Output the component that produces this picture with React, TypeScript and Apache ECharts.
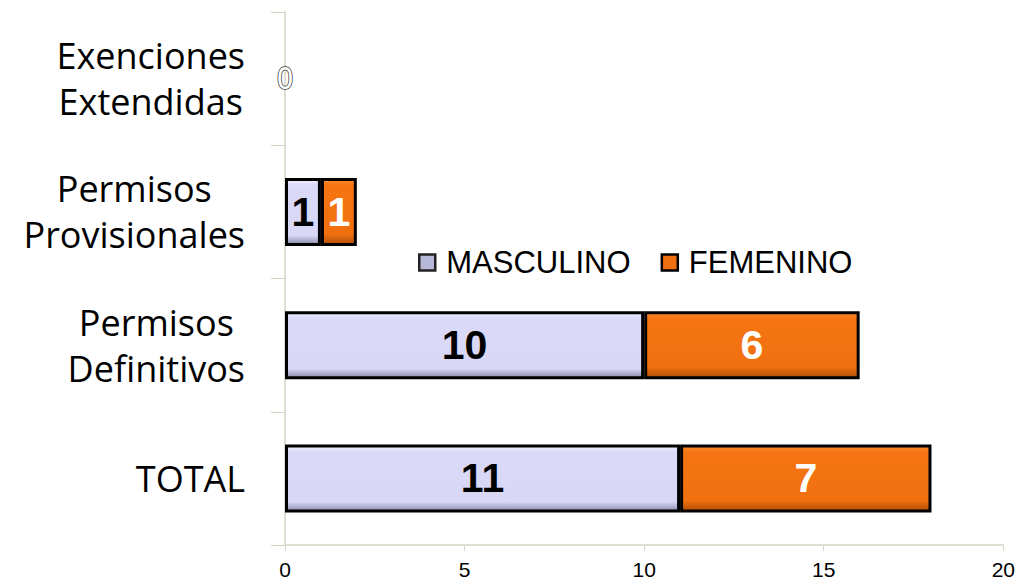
import React, { useEffect, useRef } from "react";
import * as echarts from "echarts";

const categories = ["TOTAL", "Permisos\nDefinitivos", "Permisos\nProvisionales", "Exenciones\nExtendidas"];
const masculino = [11, 10, 1, 0];
const femenino = [7, 6, 1, 0];
const xTicks = { min: 0, max: 20, interval: 5 };

export default function App() {
  const ref = useRef<HTMLDivElement>(null);
  useEffect(() => {
    document.body.style.margin = "0";
    const chart = echarts.init(ref.current!, undefined, { renderer: "svg" });
    const lavender = {
      type: "linear", x: 0, y: 0, x2: 0, y2: 1,
      colorStops: [
        { offset: 0, color: "#ececff" },
        { offset: 0.1, color: "#dadaf8" },
        { offset: 0.86, color: "#d8d8f6" },
        { offset: 1, color: "#8c8cae" },
      ],
    };
    const orange = {
      type: "linear", x: 0, y: 0, x2: 0, y2: 1,
      colorStops: [
        { offset: 0, color: "#ff8a2c" },
        { offset: 0.1, color: "#f67512" },
        { offset: 0.84, color: "#f07010" },
        { offset: 1, color: "#b25006" },
      ],
    };
    const labelFont = { fontFamily: "Liberation Sans, Arial, sans-serif", fontWeight: "bold", fontSize: 41 };
    chart.setOption({
      animation: false,
      backgroundColor: "#ffffff",
      grid: { left: 285, right: 13, top: 12, bottom: 33 },
      legend: {
        left: 413,
        top: 242,
        itemWidth: 16,
        itemHeight: 16,
        itemGap: 30,
        icon: "rect",
        textStyle: { fontFamily: "Liberation Sans, Arial, sans-serif", fontSize: 31, color: "#000", padding: [0, 0, 0, 6] },
        data: [
          { name: "MASCULINO", itemStyle: { color: "#b8b8d8", borderColor: "#222", borderWidth: 2.5 } },
          { name: "FEMENINO", itemStyle: { color: "#f07010", borderColor: "#000", borderWidth: 2.5 } },
        ],
      },
      xAxis: {
        type: "value",
        min: xTicks.min,
        max: xTicks.max,
        interval: xTicks.interval,
        splitLine: { show: false },
        axisLine: { show: true, lineStyle: { color: "#d6d2c4", width: 1.5 } },
        axisTick: { show: true, length: 6, lineStyle: { color: "#d6d2c4" } },
        axisLabel: { fontFamily: "Liberation Sans, Arial, sans-serif", fontSize: 21, color: "#000", margin: 14 },
      },
      yAxis: {
        type: "category",
        data: categories,
        axisLine: { show: true, lineStyle: { color: "#d6d2c4", width: 1.5 } },
        axisTick: { show: true, length: 14, lineStyle: { color: "#d6d2c4" } },
        axisLabel: {
          align: "right",
          margin: 40,
          formatter: (v: string) => v.split("\n").map((l) => `{a|${l}}`).join("\n"),
          rich: {
            a: { align: "center", fontFamily: "Open Sans, sans-serif", fontSize: 36, lineHeight: 46, color: "#000" },
          },
        },
      },
      series: [
        {
          name: "MASCULINO",
          type: "bar",
          stack: "s",
          barWidth: 68,
          data: masculino.map((v) =>
            v === 0
              ? {
                  value: v,
                  itemStyle: { borderWidth: 0 },
                  label: {
                    show: true,
                    position: "inside",
                    fontFamily: "DejaVu Sans Condensed, sans-serif",
                    fontWeight: "normal",
                    fontSize: 30,
                    color: "#ffffff",
                    textBorderColor: "#333333",
                    textBorderWidth: 1.5,
                  },
                }
              : v
          ),
          itemStyle: { color: lavender, borderColor: "#000", borderWidth: 3 },
          label: { show: true, position: "inside", color: "#000", ...labelFont },
        },
        {
          name: "FEMENINO",
          type: "bar",
          stack: "s",
          barWidth: 68,
          data: femenino.map((v) => (v === 0 ? { value: v, itemStyle: { borderWidth: 0 }, label: { show: false } } : v)),
          itemStyle: { color: orange, borderColor: "#000", borderWidth: 3 },
          label: { show: true, position: "inside", color: "#fff", ...labelFont },
        },
      ],
    });
    return () => chart.dispose();
  }, []);
  return <div ref={ref} style={{ position: "fixed", left: 0, top: 0, width: 1018, height: 580 }} />;
}
